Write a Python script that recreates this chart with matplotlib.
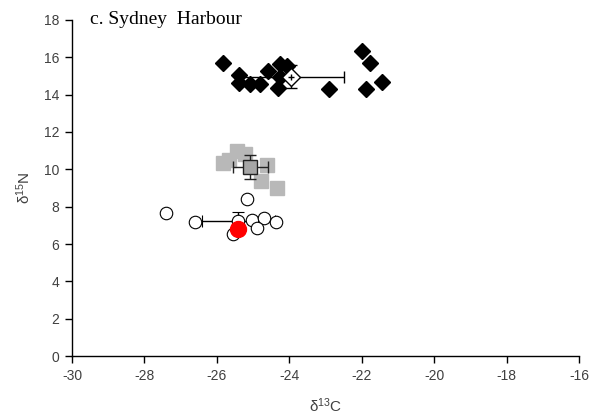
import matplotlib
matplotlib.use("Agg")
import matplotlib.pyplot as plt

plt.rcParams['mathtext.fontset'] = 'custom'
plt.rcParams['mathtext.rm'] = 'Liberation Sans'
plt.rcParams['mathtext.it'] = 'Liberation Sans'
plt.rcParams['mathtext.default'] = 'regular'
plt.rcParams['axes.unicode_minus'] = False

# Black diamonds (high trophic group)
dia_x = [-25.82, -25.38, -25.38, -25.08, -24.81, -24.58, -24.25, -24.05, -24.25, -24.32, -22.89, -22.00, -21.77, -21.88, -21.44]
dia_y = [15.68, 15.05, 14.61, 14.57, 14.57, 15.28, 15.64, 15.53, 14.96, 14.34, 14.30, 16.35, 15.68, 14.30, 14.66]
dia_mean = (-23.96, 14.96)
dia_err = (1.48, 0.62)

# Grey squares
sq_x = [-25.45, -25.22, -25.82, -25.66, -24.62, -24.78, -24.35]
sq_y = [11.0, 10.82, 10.35, 10.5, 10.23, 9.39, 8.98]
sq_mean = (-25.08, 10.11)
sq_err = (0.48, 0.65)

# Open circles
circ_x = [-25.17, -26.60, -25.04, -24.70, -24.37, -24.90, -25.56, -27.40]
circ_y = [8.41, 7.19, 7.28, 7.38, 7.19, 6.84, 6.52, 7.64]
circ_mean = (-25.41, 7.25)
circ_err = (1.01, 0.48)

# Red point
red_x = [-25.42]
red_y = [6.79]

title = "c. Sydney  Harbour"
xticks = [-30, -28, -26, -24, -22, -20, -18, -16]
yticks = [0, 2, 4, 6, 8, 10, 12, 14, 16, 18]

fig = plt.figure(figsize=(5.92, 4.15), dpi=100)
ax = fig.add_axes([0.1216, 0.142, 0.8564, 0.81])

ax.plot(sq_x, sq_y, ls='none', marker='s', ms=9.5, mfc='#b8b8b8', mec='#b8b8b8', zorder=2)
ax.errorbar([sq_mean[0]], [sq_mean[1]], xerr=[sq_err[0]], yerr=[sq_err[1]], fmt='s', ms=9.5,
            mfc='#a6a6a6', mec='#222222', mew=1.0, ecolor='#222222', elinewidth=1.0, capsize=4, capthick=1.0, zorder=3)

ax.plot(circ_x, circ_y, ls='none', marker='o', ms=9, mfc='white', mec='black', mew=0.8, zorder=4)
ax.errorbar([circ_mean[0]], [circ_mean[1]], xerr=[circ_err[0]], yerr=[circ_err[1]], fmt='o', ms=9,
            mfc='white', mec='black', mew=0.8, ecolor='black', elinewidth=1.0, capsize=4, capthick=1.0, zorder=3)

ax.plot(dia_x, dia_y, ls='none', marker='D', ms=8.5, mfc='black', mec='black', zorder=4)
ax.errorbar([dia_mean[0]], [dia_mean[1]], xerr=[dia_err[0]], yerr=[dia_err[1]], fmt='D', ms=9.5,
            mfc='white', mec='black', mew=1.0, ecolor='black', elinewidth=1.0, capsize=4, capthick=1.0, zorder=5)
ax.plot([dia_mean[0]], [dia_mean[1]], marker='+', ms=5, color='black', mew=1.0, zorder=6)

ax.plot(red_x, red_y, ls='none', marker='o', ms=11.5, mfc='#ff0000', mec='#ff0000', zorder=7)

ax.set_xlim(-30, -16)
ax.set_ylim(0, 18)
ax.set_xticks(xticks)
ax.set_yticks(yticks)
for s in ['top', 'right']:
    ax.spines[s].set_visible(False)
for s in ['left', 'bottom']:
    ax.spines[s].set_linewidth(1.0)
ax.tick_params(direction='out', length=5, width=1.0, labelsize=10, labelcolor='#404040',
               pad=4)
for lab in ax.get_xticklabels() + ax.get_yticklabels():
    lab.set_family('Liberation Sans')

ax.set_xlabel('δ$^{13}$C', fontsize=11, family='Liberation Sans', color='#404040', labelpad=10)
ax.set_ylabel('δ$^{15}$N', fontsize=11, family='Liberation Sans', color='#404040', labelpad=8)

fig.text(0.152, 0.952, title, fontsize=14, family='Liberation Serif', va='center', ha='left')

fig.savefig('out.png', dpi=100)
